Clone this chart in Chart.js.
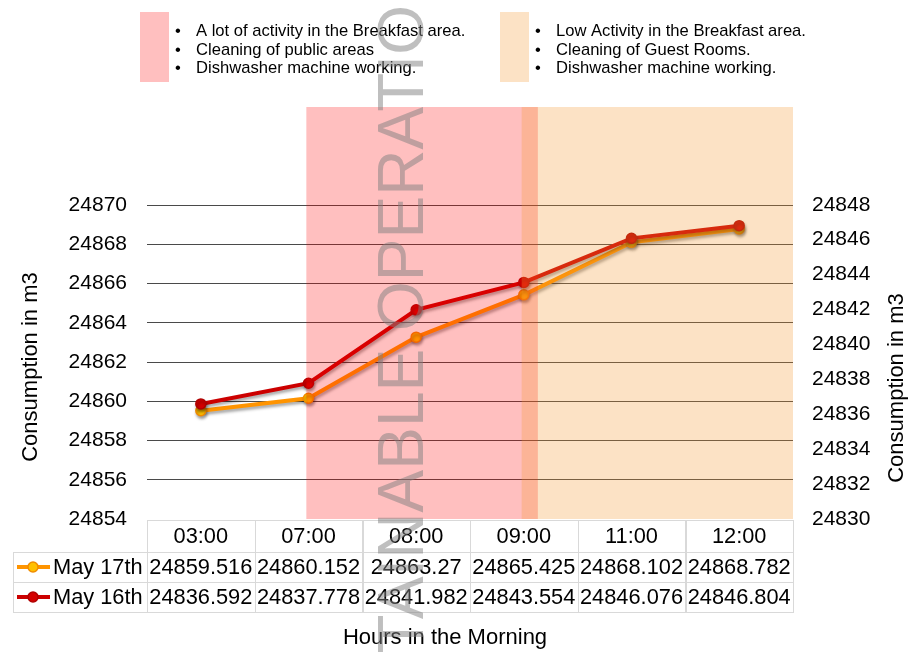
<!DOCTYPE html>
<html><head><meta charset="utf-8">
<script src="https://cdn.jsdelivr.net/npm/chart.js@4.4.1/dist/chart.umd.min.js"></script>
<style>html,body{margin:0;padding:0;background:#fff;}#wrap{width:910px;height:652px;}</style>
</head><body><div id="wrap"><canvas id="c" width="910" height="652"></canvas></div>
<script>
// ---- data ----
const hours = ['03:00', '07:00', '08:00', '09:00', '11:00', '12:00'];
const may17 = [24859.516, 24860.152, 24863.27, 24865.425, 24868.102, 24868.782];
const may16 = [24836.592, 24837.778, 24841.982, 24843.554, 24846.076, 24846.804];
const seriesNames = ['May 17th', 'May 16th'];
const leftRange = [24854, 24875];   // axis range (ticks shown up to 24870)
const leftTickTop = 24870;
const rightRange = [24830, 24853.6]; // axis range (ticks shown up to 24848)
const rightTickTop = 24848;
const tickStep = 2;
// activity periods, in category-index units
const bandStart = [0.98, 2.98];
const bandEnd = [3.13, 5.5];
const bandNotes = [
  ['A lot of activity in the Breakfast area.', 'Cleaning of public areas', 'Dishwasher machine working.'],
  ['Low Activity in the Breakfast area.', 'Cleaning of Guest Rooms.', 'Dishwasher machine working.']
];
const axisTitle = 'Consumption in m3';
const xTitle = 'Hours in the Morning';
const watermark = 'SUSTAINABLE OPERATIO';

// ---- styles ----
const FONT = "'Liberation Sans', Arial, sans-serif";
const bandColors = ['rgba(255,0,0,0.25)', 'rgba(244,151,48,0.28)'];
const lineColors = ['#FF9400', '#CC0000'];
const pointFill = ['#FFC000', '#D40000'];
const pointEdge = ['#F08C00', '#B00000'];

const helper = {
  id: 'helper',
  beforeDraw(chart) {
    const ctx = chart.ctx;
    ctx.save();
    ctx.fillStyle = '#fff';
    ctx.fillRect(0, 0, chart.width, chart.height);
    ctx.restore();
  },
  beforeDatasetsDraw(chart) {
    const ctx = chart.ctx;
    ctx.save();
    ctx.shadowColor = 'rgba(0,0,0,0.35)';
    ctx.shadowBlur = 3;
    ctx.shadowOffsetX = 1;
    ctx.shadowOffsetY = 2.5;
  },
  afterDatasetsDraw(chart) {
    const ctx = chart.ctx;
    ctx.restore();
    const x = chart.scales.x, ca = chart.chartArea;
    ctx.save();
    for (let i = 0; i < bandStart.length; i++) {
      const x0 = x.getPixelForValue(bandStart[i]);
      const x1 = Math.min(x.getPixelForValue(bandEnd[i]), ca.right);
      ctx.fillStyle = bandColors[i];
      ctx.fillRect(x0, ca.top, x1 - x0, ca.bottom - ca.top);
    }
    ctx.restore();
  },
  afterDraw(chart) {
    const ctx = chart.ctx;
    const x = chart.scales.x, ca = chart.chartArea;
    ctx.save();
    // legend notes on top
    const boxX = [140, 500];
    for (let i = 0; i < 2; i++) {
      ctx.fillStyle = '#fff';
      ctx.fillRect(boxX[i], 12, 29, 70);
      ctx.fillStyle = bandColors[i];
      ctx.fillRect(boxX[i], 12, 29, 70);
      ctx.fillStyle = '#000';
      ctx.font = '16.6px ' + FONT;
      ctx.textBaseline = 'middle';
      ctx.textAlign = 'left';
      bandNotes[i].forEach((t, k) => {
        const y = 31.5 + k * 18.5;
        ctx.fillText('\u2022', boxX[i] + 35, y);
        ctx.fillText(t, boxX[i] + 56, y);
      });
    }
    // table
    const colW = (x.right - x.left) / hours.length;
    const top0 = ca.bottom + 1, hH = 32, rH = 30;
    ctx.strokeStyle = '#d9d9d9';
    ctx.lineWidth = 1;
    ctx.font = '21.8px ' + FONT;
    ctx.textAlign = 'center';
    ctx.textBaseline = 'middle';
    ctx.fillStyle = '#000';
    hours.forEach((h, i) => {
      const cx = x.getPixelForValue(i);
      ctx.strokeRect(Math.round(cx - colW / 2) + 0.5, top0 + 0.5, Math.round(colW), hH);
      ctx.fillText(h, cx, top0 + hH / 2 + 1);
    });
    const series = [may17, may16];
    series.forEach((vals, r) => {
      const y0 = top0 + hH + r * rH;
      const yc = y0 + rH / 2 + 1;
      ctx.strokeRect(13.5, y0 + 0.5, Math.round(x.left) - 13, rH);
      vals.forEach((v, i) => {
        const cx = x.getPixelForValue(i);
        ctx.strokeRect(Math.round(cx - colW / 2) + 0.5, y0 + 0.5, Math.round(colW), rH);
        ctx.fillStyle = '#000';
        ctx.textAlign = 'center';
        ctx.fillText(String(v), cx, yc);
      });
      // legend key
      ctx.strokeStyle = lineColors[r];
      ctx.lineWidth = 4;
      ctx.beginPath(); ctx.moveTo(17, yc - 1); ctx.lineTo(50, yc - 1); ctx.stroke();
      ctx.beginPath(); ctx.arc(33, yc - 1, 5, 0, Math.PI * 2);
      ctx.fillStyle = pointFill[r]; ctx.fill();
      ctx.lineWidth = 1.5; ctx.strokeStyle = pointEdge[r]; ctx.stroke();
      ctx.strokeStyle = '#d9d9d9'; ctx.lineWidth = 1;
      ctx.fillStyle = '#000';
      ctx.textAlign = 'left';
      ctx.fillText(seriesNames[r], 53, yc);
    });
    // axis titles
    ctx.font = '22px ' + FONT;
    ctx.textAlign = 'center';
    ctx.textBaseline = 'middle';
    ctx.fillStyle = '#000';
    ctx.fillText(xTitle, 445, 638);
    [[31, 367], [897, 388]].forEach(([tx, ty]) => {
      ctx.save();
      ctx.translate(tx, ty);
      ctx.rotate(-Math.PI / 2);
      ctx.fillText(axisTitle, 0, 0);
      ctx.restore();
    });
    // watermark
    ctx.save();
    ctx.translate(423, 5);
    ctx.rotate(-Math.PI / 2);
    ctx.font = '64px ' + FONT;
    ctx.textAlign = 'right';
    ctx.textBaseline = 'alphabetic';
    ctx.fillStyle = 'rgba(128,128,128,0.5)';
    ctx.fillText(watermark, 0, 0);
    ctx.restore();
    ctx.restore();
  }
};

const plainTick = v => String(v);

new Chart(document.getElementById('c'), {
  type: 'line',
  data: {
    labels: hours,
    datasets: [
      { label: seriesNames[0], data: may17, yAxisID: 'yL', order: 1,
        borderColor: lineColors[0], borderWidth: 4, pointRadius: 5, pointBorderWidth: 1.5,
        pointBackgroundColor: pointFill[0], pointBorderColor: pointEdge[0], tension: 0 },
      { label: seriesNames[1], data: may16, yAxisID: 'yR', order: 0,
        borderColor: lineColors[1], borderWidth: 4, pointRadius: 5, pointBorderWidth: 1.5,
        pointBackgroundColor: pointFill[1], pointBorderColor: pointEdge[1], tension: 0 }
    ]
  },
  options: {
    responsive: false,
    devicePixelRatio: 1,
    animation: false,
    events: [],
    layout: { padding: { top: 107, left: 0, right: 0, bottom: 0 } },
    plugins: { legend: { display: false }, tooltip: { enabled: false } },
    scales: {
      x: {
        type: 'category', offset: true,
        grid: { display: false }, border: { display: false },
        ticks: { display: false },
        afterFit(s) { s.height = 133; }
      },
      yL: {
        position: 'left', min: leftRange[0], max: leftRange[1],
        border: { display: false },
        grid: { drawTicks: false, lineWidth: 1,
          color: c => (c.tick && c.tick.value > leftRange[0]) ? '#4a4a4a' : 'rgba(0,0,0,0)' },
        ticks: { stepSize: tickStep, padding: 20, color: '#000', font: { family: FONT, size: 21 }, callback: plainTick },
        afterBuildTicks(s) { s.ticks = s.ticks.filter(t => t.value <= leftTickTop && t.value >= leftRange[0]); },
        afterFit(s) { s.width = 147; }
      },
      yR: {
        position: 'right', min: rightRange[0], max: rightRange[1],
        border: { display: false },
        grid: { display: false, drawOnChartArea: false, drawTicks: false },
        ticks: { stepSize: tickStep, padding: 19, color: '#000', font: { family: FONT, size: 21 }, callback: plainTick },
        afterBuildTicks(s) { s.ticks = s.ticks.filter(t => t.value <= rightTickTop && t.value >= rightRange[0]); },
        afterFit(s) { s.width = 117; }
      }
    }
  },
  plugins: [helper]
});
</script>
</body></html>
